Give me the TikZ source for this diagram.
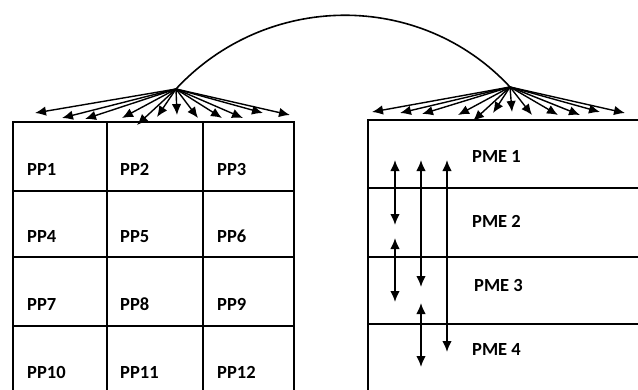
\documentclass[tikz,border=0pt]{standalone}
\usepackage{fontspec}
\setmainfont{Carlito}
\usetikzlibrary{arrows.meta}
\begin{document}
\begin{tikzpicture}[x=1pt,y=-1pt,
  cell/.style={draw,line width=1.9pt,minimum width=#1,inner sep=0pt,anchor=north west},
  lbl/.style={font=\bfseries\fontsize{18.5}{18.5}\selectfont,anchor=base west,inner sep=0pt},
  fan/.style={line width=1.4pt,-{Latex[length=11pt,width=9.5pt]}},
  link/.style={line width=1.6pt,{Latex[length=11pt,width=9.5pt]}-{Latex[length=11pt,width=9.5pt]}}]
\useasboundingbox (0,0) rectangle (638,389);
\clip (0,0) rectangle (638,389);

% left grid of PP cells
\foreach \r/\y/\h in {0/121/69,1/190/66,2/256/69,3/325/75}{
  \node[cell=94pt,minimum height=\h pt] (c\r a) at (12,\y) {};
  \node[cell=96pt,minimum height=\h pt] (c\r b) at (106,\y) {};
  \node[cell=91pt,minimum height=\h pt] (c\r c) at (202,\y) {};
}
\node[lbl] (pp1) at (27,175) {PP1};
\node[lbl] (pp2) at (120,175) {PP2};
\node[lbl] (pp3) at (217,175) {PP3};
\node[lbl] (pp4) at (27,242) {PP4};
\node[lbl] (pp5) at (120,242) {PP5};
\node[lbl] (pp6) at (217,242) {PP6};
\node[lbl] (pp7) at (27,310) {PP7};
\node[lbl] (pp8) at (120,310) {PP8};
\node[lbl] (pp9) at (217,310) {PP9};
\node[lbl] (pp10) at (27,378) {PP10};
\node[lbl] (pp11) at (120,378) {PP11};
\node[lbl] (pp12) at (217,378) {PP12};

% right column of PME bands
\node[cell=300pt,minimum height=68pt] (m1) at (367,119) {};
\node[cell=300pt,minimum height=69pt] (m2) at (367,187) {};
\node[cell=300pt,minimum height=67pt] (m3) at (367,256) {};
\node[cell=300pt,minimum height=80pt] (m4) at (367,323) {};
\node[lbl] (pme1) at (472,162) {PME 1};
\node[lbl] (pme2) at (472,227) {PME 2};
\node[lbl] (pme3) at (474,291) {PME 3};
\node[lbl] (pme4) at (472,355) {PME 4};

% fan-out points and the arc joining them
\coordinate (hubL) at (176,89);
\coordinate (hubR) at (510,87);
\draw[line width=1.6pt] (hubL) .. controls (266,-8) and (420,-10) .. (hubR);

% left fan
\foreach \i/\x/\y in {1/35/113,2/62/118,3/85/119,4/122/118,5/137/125,6/157/117,
                      7/177/115,8/198/118,9/222/118,10/243/118,11/263/113,12/290/115}{
  \coordinate (tL\i) at (\x,\y);
  \draw[fan] (hubL) -- (tL\i);
}
% right fan
\foreach \i/\x/\y in {1/372/112,2/400/113,3/422/114,4/458/115,5/473/121,6/493/113,
                      7/512/112,8/532/115,9/558/115,10/580/115,11/600/112,12/625/113}{
  \coordinate (tR\i) at (\x,\y);
  \draw[fan] (hubR) -- (tR\i);
}

% vertical links between PME bands
\coordinate (a1) at (395,160); \coordinate (b1) at (395,225);
\coordinate (a2) at (395,238); \coordinate (b2) at (395,302);
\coordinate (a3) at (421,160); \coordinate (b3) at (421,287);
\coordinate (a4) at (421,303); \coordinate (b4) at (421,367);
\coordinate (a5) at (447,160); \coordinate (b5) at (447,352);
\foreach \i in {1,...,5}{\draw[link] (a\i) -- (b\i);}
\end{tikzpicture}
\end{document}
